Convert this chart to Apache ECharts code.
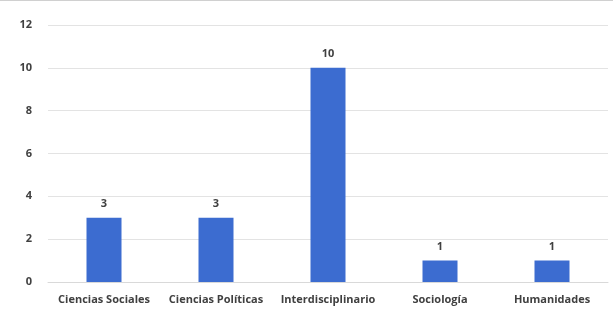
<!DOCTYPE html>
<html>
<head>
<meta charset="utf-8">
<script src="https://cdn.jsdelivr.net/npm/echarts@6/dist/echarts.min.js"></script>
<style>
  html, body { margin: 0; padding: 0; background: #fff; }
  #chart { width: 613px; height: 314px; box-sizing: border-box; border-top: 1px solid #d0d0d0; }
</style>
</head>
<body>
<div id="chart"></div>
<script>
// datos del gráfico
const categories = ['Ciencias Sociales', 'Ciencias Políticas', 'Interdisciplinario', 'Sociología', 'Humanidades'];
const values = [3, 3, 10, 1, 1];

const chart = echarts.init(document.getElementById('chart'));
chart.setOption({
    textStyle: { fontFamily: 'Open Sans' },
    grid: { left: 48, right: 5, top: 24, bottom: 32 },
    xAxis: {
        type: 'category',
        data: categories,
        axisLine: { lineStyle: { color: '#d9d9d9' } },
        axisTick: { show: false },
        axisLabel: { color: '#404040', fontSize: 11, fontWeight: 'bold', margin: 12, interval: 0 }
    },
    yAxis: {
        type: 'value',
        min: 0,
        max: 12,
        interval: 2,
        axisLine: { show: false },
        axisTick: { show: false },
        axisLabel: { color: '#404040', fontSize: 11, fontWeight: 'bold', margin: 16 },
        splitLine: { lineStyle: { color: '#e3e3e3' } }
    },
    series: [{
        type: 'bar',
        data: values,
        barWidth: 35,
        itemStyle: { color: '#3c6cd0' },
        label: { show: true, position: 'top', color: '#404040', fontSize: 11, fontWeight: 'bold', distance: 8 }
    }]
});
</script>
</body>
</html>
